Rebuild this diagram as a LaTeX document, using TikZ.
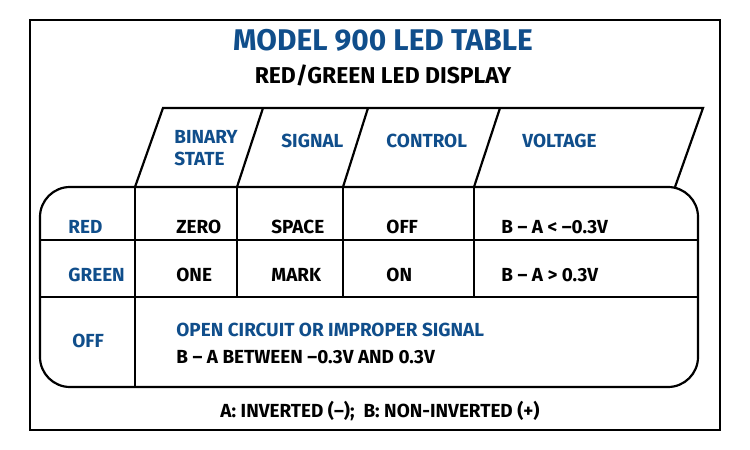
\documentclass[tikz,border=0pt]{standalone}
\usepackage{fontspec}
\setmainfont{Fira Sans}
\definecolor{ttl}{RGB}{16,78,139}
\begin{document}
\begin{tikzpicture}[x=1bp,y=-1bp,line width=2.2pt,
  bl/.style={text=ttl,font=\bfseries\fontsize{19}{22}\selectfont,anchor=base west},
  bk/.style={text=black,font=\bfseries\fontsize{19}{22}\selectfont,anchor=base west}]
\useasboundingbox (0,0) rectangle (750,450);
\draw[line width=2pt] (30,20) rectangle (720,430);
\node[text=ttl,font=\bfseries\fontsize{30}{34}\selectfont] (t) at (383,40) {MODEL 900 LED TABLE};
\node[font=\bfseries\fontsize{23}{26}\selectfont] (s) at (383,75) {RED/GREEN LED DISPLAY};
% header
\draw (135,187) -- (163,108) -- (703,108) -- (675,187);
\draw (237,187) -- (263,108);
\draw (343,187) -- (368,108);
\draw (474,187) -- (500,108);
% table
\draw[rounded corners=30bp] (40,187) rectangle (698,387);
\draw (40,240) -- (698,240);
\draw (40,297) -- (698,297);
\draw (135,187) -- (135,387);
\draw (237,187) -- (237,297);
\draw (343,187) -- (343,297);
\draw (474,187) -- (474,297);
% header text
\node[bl,align=left,anchor=north west] (h1) at (170,126) {BINARY\\STATE};
\node[bl] (h2) at (277,148) {SIGNAL};
\node[bl] (h3) at (382,148) {CONTROL};
\node[bl] (h4) at (518,148) {VOLTAGE};
% rows
\node[bl] (r1) at (64,234) {RED};
\node[bl] (r2) at (64,282) {GREEN};
\node[bl] (r3) at (68,348) {OFF};
\node[bk] at (172,234) {ZERO};
\node[bk] at (267,234) {SPACE};
\node[bk] at (382,234) {OFF};
\node[bk] at (497,234) {B – A < –0.3V};
\node[bk] at (172,282) {ONE};
\node[bk] at (267,282) {MARK};
\node[bk] at (382,282) {ON};
\node[bk] at (497,282) {B – A > 0.3V};
\node[bl] at (172,337) {OPEN CIRCUIT OR IMPROPER SIGNAL};
\node[bk] at (172,364) {B – A BETWEEN –0.3V AND 0.3V};
\node[bk,anchor=base] (f) at (380,417) {A: INVERTED (–);\ \ B: NON-INVERTED (+)};
\end{tikzpicture}
\end{document}
